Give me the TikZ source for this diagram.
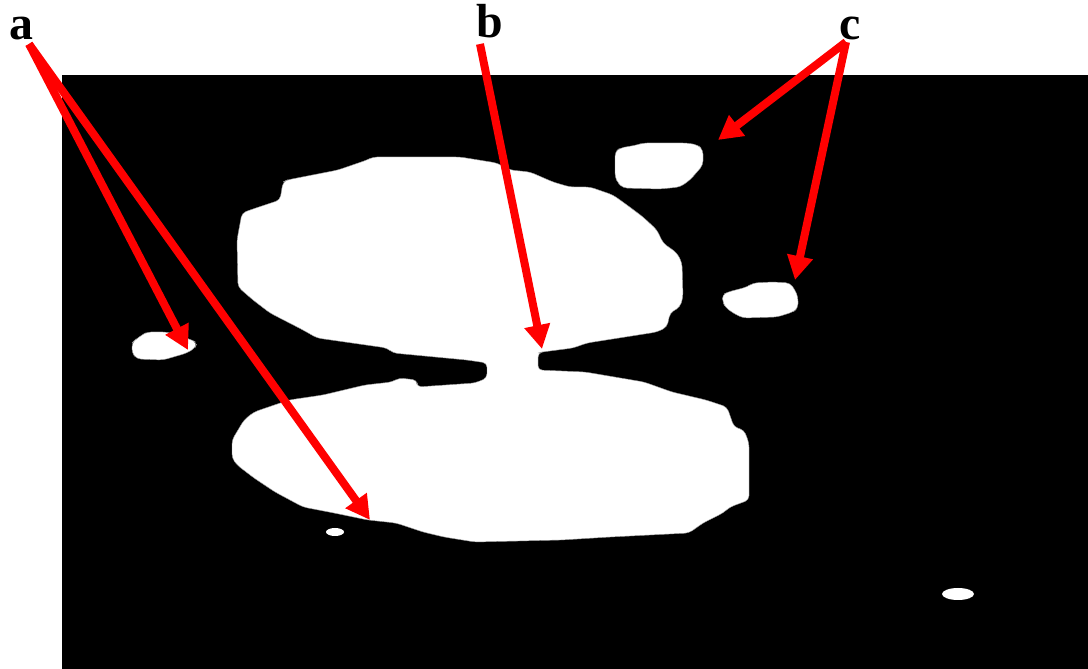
\documentclass[tikz,border=0pt]{standalone}
\usepackage{fontspec}
\setmainfont{Liberation Serif}
\usepackage{tikz}
\usetikzlibrary{arrows.meta}

\begin{document}
\begin{tikzpicture}[x=0.025cm, y=-0.025cm,
    blob/.style={fill=white, draw=white!60!black, line width=0.3pt, rounded corners=3pt},
    pointer/.style={red, line width=0.2cm, -{Triangle[length=0.6cm, width=0.62cm]}},
    lbl/.style={font=\fontsize{34}{34}\selectfont\bfseries, inner sep=0pt, anchor=base}]
  \useasboundingbox (0,0) rectangle (1088,669);
  % binary image
  \fill[black] (62,75) rectangle (1088,669);
  % the two large blobs and their neck
  \path[blob] (283,182) -- (287,180) -- (338,170) -- (367,160) -- (373,157)
    -- (460,157) -- (497,163) -- (510,170) -- (530,172) -- (553,182)
    -- (570,187) -- (590,187) -- (613,195) -- (627,205) -- (643,217)
    -- (657,230) -- (663,243) -- (677,253) -- (682,263) -- (683,297)
    -- (680,307) -- (670,313) -- (667,327) -- (657,332) -- (587,343)
    -- (573,348) -- (542,352) -- (538,353) -- (538,370) -- (585,372)
    -- (644,382) -- (672,392) -- (706,400) -- (727,407) -- (734,427)
    -- (744,430) -- (749,443) -- (749,500) -- (730,507) -- (723,513)
    -- (703,523) -- (689,533) -- (610,537) -- (561,540) -- (475,542)
    -- (444,537) -- (423,532) -- (396,523) -- (368,520) -- (334,513)
    -- (303,507) -- (275,492) -- (254,478) -- (237,465) -- (232,458)
    -- (232,440) -- (244,420) -- (254,412) -- (289,400) -- (323,395)
    -- (365,385) -- (392,382) -- (399,378) -- (417,380) -- (417,387)
    -- (475,383) -- (487,378) -- (487,363) -- (467,360) -- (393,353)
    -- (387,348) -- (317,338) -- (303,330) -- (270,313) -- (253,300)
    -- (238,287) -- (237,240) -- (242,213) -- (250,210) -- (280,200) -- cycle;
  % small blobs
  \path[blob] (132,343) -- (135,340) -- (142,335) -- (147,332) -- (167,332)
    -- (183,337) -- (192,340) -- (197,343) -- (195,348) -- (187,353)
    -- (163,360) -- (137,359) -- (132,353) -- cycle;
  \path[blob] (615,152) -- (620,148) -- (637,145) -- (643,143) -- (687,143)
    -- (698,145) -- (703,150) -- (703,165) -- (697,172) -- (690,180)
    -- (680,187) -- (660,189) -- (623,188) -- (618,183) -- (615,177) -- cycle;
  \path[blob] (722,295) -- (728,292) -- (747,287) -- (753,283) -- (773,282)
    -- (790,283) -- (795,290) -- (798,297) -- (798,308) -- (793,312)
    -- (777,317) -- (743,318) -- (733,313) -- (725,307) -- (723,302) -- cycle;
  \fill[white] (958,594) ellipse [x radius=16, y radius=6];
  \fill[white] (335,532) ellipse [x radius=9, y radius=4];

  % labels
  \node[lbl] (la) at (21,40) {a};
  \node[lbl] (lb) at (490,38) {b};
  \node[lbl] (lc) at (850,40) {c};
  \coordinate (a0) at (29,44);
  \coordinate (b0) at (480,44);
  \coordinate (c0) at (846,42);
  \coordinate (a1) at (188,350);
  \coordinate (a2) at (370,520);
  \coordinate (b1) at (542,349);
  \coordinate (c1) at (718,140);
  \coordinate (c2) at (795,280);

  % pointers
  \draw[pointer] (a0) -- (a1);
  \draw[pointer] (a0) -- (a2);
  \draw[pointer] (b0) -- (b1);
  \draw[pointer] (c0) -- (c1);
  \draw[pointer] (c0) -- (c2);
\end{tikzpicture}
\end{document}
